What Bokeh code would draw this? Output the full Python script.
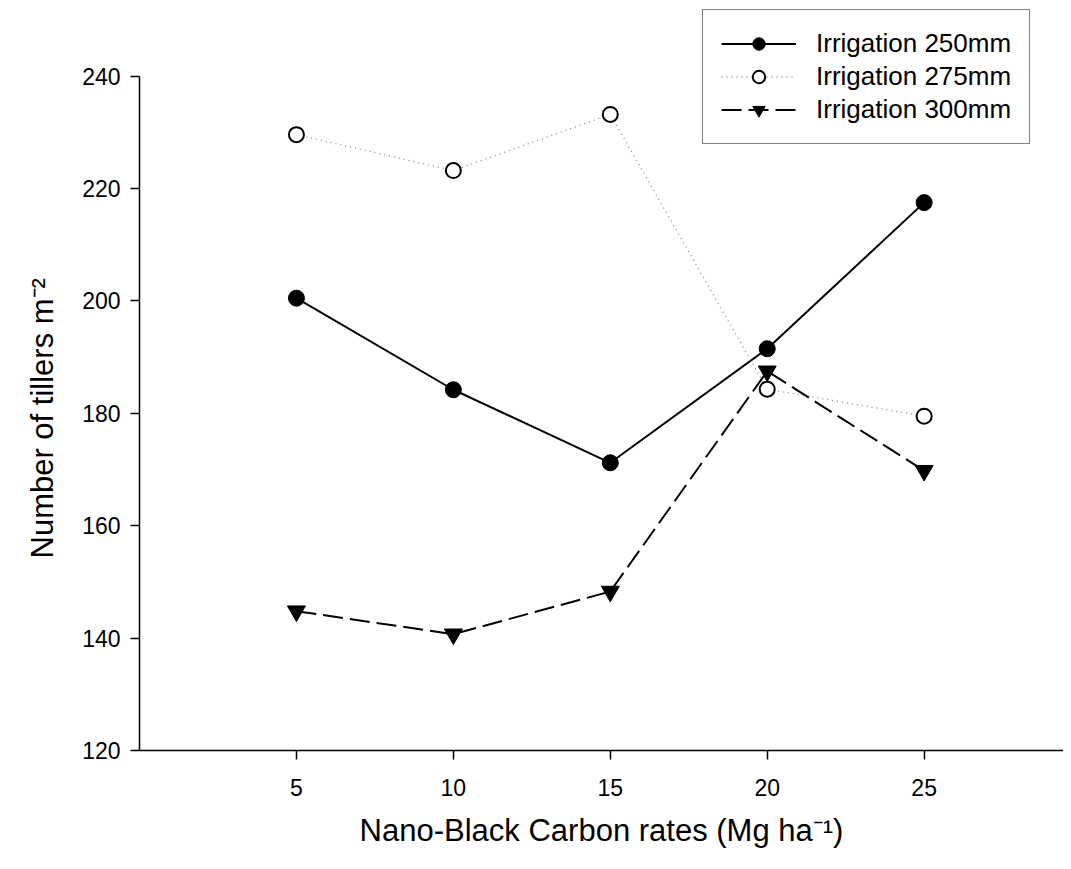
from bokeh.plotting import figure
from bokeh.models import Range1d, Legend, LegendItem, FixedTicker, Title
from bokeh.embed import file_html
from bokeh.resources import INLINE

# Data
rates = [5, 10, 15, 20, 25]
irr_250 = [200.5, 184.2, 171.2, 191.5, 217.5]
irr_275 = [229.6, 223.2, 233.2, 184.3, 179.5]
irr_300 = [144.8, 140.7, 148.3, 187.5, 169.8]
series_labels = ["Irrigation 250mm", "Irrigation 275mm", "Irrigation 300mm"]
x_ticks = [5, 10, 15, 20, 25]
y_ticks = [120, 140, 160, 180, 200, 220, 240]
x_title = "Nano-Black Carbon rates (Mg ha\u207b\u00b9)"
y_title = "Number of tillers m\u207b\u00b2"

FONT = "Liberation Sans"

p = figure(width=1063, height=850, output_backend="svg", toolbar_location=None,
           x_range=Range1d(0, 29.44), y_range=Range1d(120, 253.47),
           min_border_left=139, min_border_right=0, min_border_top=0,
           min_border_bottom=96)
p.outline_line_color = None
p.xgrid.visible = False
p.ygrid.visible = False

# series 250 mm
l1 = p.line(rates, irr_250, line_color="black", line_width=2)
s1 = p.scatter(rates, irr_250, marker="circle", size=16, fill_color="black",
               line_color="black")
# series 275 mm
l2 = p.line(rates, irr_275, line_color="#8a8a8a", line_width=1.3, line_dash="1 4")
s2 = p.scatter(rates, irr_275, marker="circle", size=15, fill_color="white",
               line_color="black", line_width=2)
# series 300 mm
l3 = p.line(rates, irr_300, line_color="black", line_width=2, line_dash="20 7")
s3 = p.scatter(rates, irr_300, marker="inverted_triangle", size=18,
               fill_color="black", line_color="black")

legend = Legend(items=[
    LegendItem(label=series_labels[0], renderers=[l1, s1]),
    LegendItem(label=series_labels[1], renderers=[l2, s2]),
    LegendItem(label=series_labels[2], renderers=[l3, s3]),
], location=(563, 606))
legend.border_line_color = "black"
legend.border_line_width = 1.5
legend.background_fill_color = "white"
legend.background_fill_alpha = 1
legend.padding = 18
legend.spacing = 2
legend.glyph_width = 75
legend.glyph_height = 31
legend.label_height = 31
legend.label_standoff = 20
legend.margin = 0
legend.label_text_font = FONT
legend.label_text_font_size = "26px"
legend.label_text_color = "black"
p.add_layout(legend, "center")

for ax in (p.xaxis[0], p.yaxis[0]):
    ax.axis_line_color = "black"
    ax.axis_line_width = 1.5
    ax.major_tick_line_color = "black"
    ax.major_tick_line_width = 1.5
    ax.major_tick_out = 9
    ax.major_tick_in = 0
    ax.minor_tick_line_color = None
    ax.major_label_text_font = FONT
    ax.major_label_text_font_size = "23px"
    ax.major_label_text_color = "black"
    ax.axis_label_text_font = FONT
    ax.axis_label_text_font_size = "31px"
    ax.axis_label_text_font_style = "normal"
    ax.axis_label_text_color = "black"

p.xaxis[0].ticker = FixedTicker(ticks=x_ticks)
p.yaxis[0].ticker = FixedTicker(ticks=y_ticks)
p.yaxis[0].bounds = (120, 240)
p.xaxis[0].major_label_standoff = 19
p.yaxis[0].major_label_standoff = 10
p.xaxis[0].axis_label = x_title
p.xaxis[0].axis_label_standoff = 14

ytitle = Title(text=y_title, align="left", offset=192, standoff=40,
               text_font=FONT, text_font_size="31px", text_font_style="normal",
               text_color="black")
p.add_layout(ytitle, "left")

open("out.html", "w").write(file_html(p, INLINE))
